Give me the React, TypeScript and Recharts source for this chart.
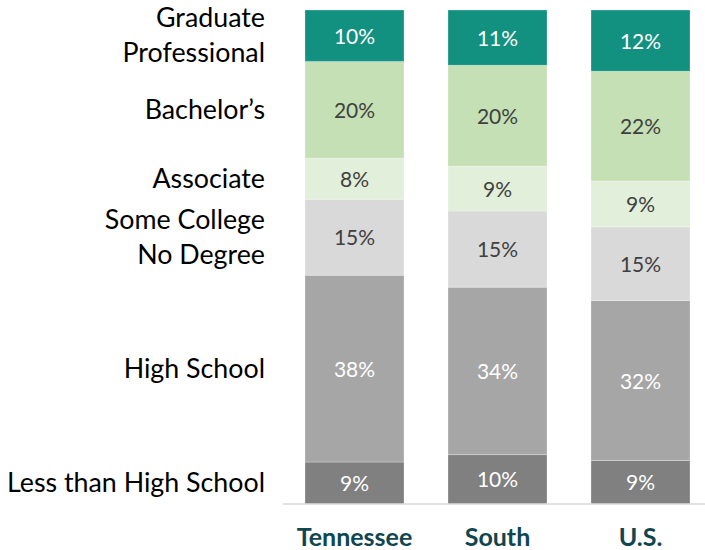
import { BarChart, Bar, XAxis, YAxis, LabelList } from "recharts";

const regions = ["Tennessee", "South", "U.S."];
const lessThanHS = [8.5, 10.0, 8.8];
const highSchool = [37.8, 33.9, 32.4];
const someCollege = [15.4, 15.4, 14.9];
const associate = [8.3, 9.1, 9.3];
const bachelors = [19.6, 20.4, 22.2];
const graduate = [10.4, 11.2, 12.4];

const series = [
  { key: "less", name: ["Less than High School"], values: lessThanHS, fill: "#808080", text: "#ffffff" },
  { key: "hs", name: ["High School"], values: highSchool, fill: "#a6a6a6", text: "#ffffff" },
  { key: "some", name: ["Some College", "No Degree"], values: someCollege, fill: "#d9d9d9", text: "#404040" },
  { key: "assoc", name: ["Associate"], values: associate, fill: "#e2efda", text: "#404040" },
  { key: "bach", name: ["Bachelor\u2019s"], values: bachelors, fill: "#c5e0b4", text: "#404040" },
  { key: "grad", name: ["Graduate", "Professional"], values: graduate, fill: "#139180", text: "#ffffff" },
];

const data = regions.map((region, i) => {
  const row: Record<string, string | number> = { region };
  series.forEach((s) => (row[s.key] = s.values[i]));
  return row;
});

const FONT = "Lato, 'Noto Sans', sans-serif";

const makeLabel = (s: (typeof series)[number]) => (props: any) => {
  const { x, y, width, height, value, index } = props;
  const cx = x + width / 2;
  const cy = y + height / 2;
  const lineH = 34.7;
  return (
    <g>
      <text x={cx} y={cy + 8} textAnchor="middle" fill={s.text} fontSize={21} fontFamily={FONT}>
        {Math.round(value)}%
      </text>
      {index === 0 &&
        s.name.map((line, li) => (
          <text
            key={li}
            x={x - 40}
            y={cy + 9 + (li - (s.name.length - 1) / 2) * lineH}
            textAnchor="end"
            fill="#000000"
            fontSize={26.8}
            fontFamily={FONT}
          >
            {line}
          </text>
        ))}
    </g>
  );
};

const RegionTick = (props: any) => {
  const { x, y, payload } = props;
  return (
    <text
      x={x}
      y={y + 34}
      textAnchor="middle"
      fill="#0f4650"
      fontSize={25}
      fontWeight={700}
      fontFamily={FONT}
    >
      {payload.value}
    </text>
  );
};

export default function App() {
  return (
    <div style={{ position: "absolute", left: 0, top: 0, width: 705, height: 550, overflow: "hidden", background: "#fff" }}>
      <BarChart
        width={712}
        height={550}
        data={data}
        stackOffset="expand"
        barSize={99}
        margin={{ top: 10, right: 0, left: 283, bottom: 0 }}
      >
        <XAxis
          dataKey="region"
          height={46}
          axisLine={{ stroke: "#d9d9d9", strokeWidth: 1.5 }}
          tickLine={false}
          tick={<RegionTick />}
          interval={0}
        />
        <YAxis hide domain={[0, 1]} />
        {series.map((s) => (
          <Bar
            key={s.key}
            dataKey={s.key}
            stackId="a"
            fill={s.fill}
            stroke="#ffffff"
            strokeOpacity={0.35}
            strokeWidth={0.75}
            isAnimationActive={false}
          >
            <LabelList dataKey={s.key} content={makeLabel(s)} />
          </Bar>
        ))}
      </BarChart>
    </div>
  );
}
